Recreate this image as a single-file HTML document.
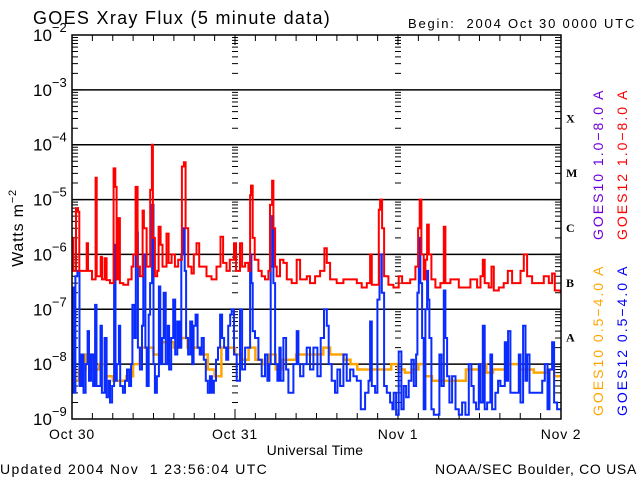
<!DOCTYPE html>
<html><head><meta charset="utf-8"><style>
html,body{margin:0;padding:0;background:#fff;}
svg{display:block;font-family:"Liberation Sans",sans-serif;}
</style></head><body>
<svg id="chart" width="640" height="480" viewBox="0 0 640 480" xmlns="http://www.w3.org/2000/svg">
<text x="33" y="24" font-size="18" letter-spacing="1.3" fill="#000">GOES Xray Flux (5 minute data)</text>
<text x="408" y="28" font-size="13" letter-spacing="1.8" fill="#000" xml:space="preserve">Begin:  2004 Oct 30 0000 UTC</text>
<text x="0" y="474" font-size="14" letter-spacing="1.4" fill="#000" xml:space="preserve">Updated 2004 Nov  1 23:56:04 UTC</text>
<text x="637" y="474" font-size="14" letter-spacing="0.7" fill="#000" text-anchor="end">NOAA/SEC Boulder, CO USA</text>
<text x="315" y="455" font-size="14" letter-spacing="0.3" text-anchor="middle">Universal Time</text>
<text transform="translate(23,228) rotate(-90)" font-size="16" letter-spacing="0.8" text-anchor="middle">Watts m<tspan dy="-7" font-size="11">−2</tspan></text>
<g id="plot"></g>
<g font-size="14" letter-spacing="2" font-family="Liberation Sans,sans-serif">
<text transform="translate(603,240) rotate(-90)" fill="#7000d8">GOES10 1.0−8.0 A</text>
<text transform="translate(627,240) rotate(-90)" fill="#ff0000">GOES12 1.0−8.0 A</text>
<text transform="translate(603,416) rotate(-90)" fill="#ffa500">GOES10 0.5−4.0 A</text>
<text transform="translate(627,416) rotate(-90)" fill="#0000ff">GOES12 0.5−4.0 A</text>
</g>
</svg>
<script>
const dayLabels = ["Oct 30","Oct 31","Nov 1","Nov 2"];
const classLabels = ["X","M","C","B","A"];
const decadeExps = [-2,-3,-4,-5,-6,-7,-8,-9];

const redTimes = [0,0.2,0.59,0.88,1.08,1.67,2.16,2.35,2.94,3.48,3.63,4.22,4.41,4.8,5.1,5.59,6.13,6.37,6.57,6.86,7.06,7.55,8.28,8.77,9.02,9.36,9.66,10,10.39,10.59,10.98,11.52,11.76,11.91,12.2,12.55,12.75,13.04,13.33,13.92,14.22,14.66,15.15,15.64,16.18,16.47,16.72,17.11,17.6,17.94,18.33,18.73,19.31,19.8,20.54,21.27,21.86,22.25,22.75,23.24,
23.5,23.86,24.15,24.74,25.04,25.48,25.97,26.22,26.36,26.61,26.9,27.44,27.93,28.42,28.92,29.16,29.46,29.65,29.9,30.14,30.63,31.12,31.62,32.35,33.09,33.58,34.57,35.05,35.79,36.53,37.17,37.51,38,38.98,39.96,40.95,41.93,42.66,43.4,43.89,44.14,44.87,45.17,45.36,45.66,45.95,46.59,47.33,
48.1,48.6,49.8,50.56,50.96,51.2,51.45,51.79,52.04,52.28,52.53,52.92,53.51,54.25,54.74,54.98,55.72,56.95,58.17,58.66,59.64,60.14,60.48,60.77,61.36,61.76,62.1,62.84,63.57,64.16,64.8,65.39,66.03,66.52,67.01,67.75,68.73,69.47,70.2,70.69,71.09,71.92];
const redValues = [2e-6,5e-7,7e-6,6e-6,5e-7,5e-7,1.6e-6,5e-7,3.5e-7,2.5e-5,4e-7,9e-7,3.5e-7,8.5e-7,3.4e-7,3e-7,3.7e-5,1.7e-5,3.5e-7,4.6e-6,3e-7,2.8e-7,3.5e-7,6e-7,1e-6,1.7e-5,6e-7,4e-7,6.3e-6,3e-6,6e-7,1.5e-5,1e-4,2e-6,4e-7,5e-7,3.2e-6,1.5e-6,6e-7,2.4e-6,7e-7,1e-6,6e-7,8e-7,4e-5,4.8e-5,3e-6,6e-7,4.5e-7,1e-6,1.6e-6,6e-7,6e-7,4e-7,3.5e-7,6e-7,2.1e-6,7e-7,5e-7,8e-7,
8e-7,1.6e-6,5e-7,1.6e-6,6e-7,7e-7,5e-7,1.2e-5,1.8e-5,2e-6,8e-7,5e-7,4e-7,3.5e-7,5e-7,8e-6,2.2e-5,3e-6,6e-7,4e-7,8e-7,7e-7,3.5e-7,3e-7,8e-7,3.5e-7,4e-7,3e-7,4e-7,5e-7,1.3e-6,7e-7,3.5e-7,3e-7,3.5e-7,3.5e-7,3e-7,2.5e-7,3e-7,1e-6,2.8e-7,2.8e-7,6.5e-6,1e-5,3e-6,4e-7,2.8e-7,2.5e-7,
4e-7,3e-7,3.5e-7,6e-7,3e-6,1e-5,1e-6,3.5e-7,8e-7,3.5e-6,1e-6,3.5e-7,2.5e-7,3e-7,3.2e-6,3e-7,3.5e-7,2.5e-7,2.5e-7,3.5e-7,2.5e-7,4e-7,8e-7,3e-7,2.5e-7,6e-7,2.2e-7,2.5e-7,3e-7,5e-7,3e-7,3e-7,5e-7,1e-6,4e-7,3e-7,3e-7,4e-7,3e-7,4.5e-7,2.2e-7,2e-7];

const blueTimes = [0,0.2,0.5,0.8,1.1,1.4,1.7,2.0,2.3,2.5,2.8,3.1,3.4,3.6,4.2,4.4,4.8,5.1,5.4,5.6,5.9,6.2,6.4,6.6,6.9,7.1,7.5,7.8,8.1,8.4,8.7,8.9,9.2,9.4,9.7,10.0,10.3,10.5,10.8,11.0,11.3,11.5,11.8,12.0,12.2,12.5,12.8,13.0,13.3,13.5,13.8,14.1,14.3,14.6,14.9,15.2,15.5,15.8,16.1,16.4,16.6,16.8,17.1,17.4,17.7,17.9,18.2,18.5,18.8,19.1,19.4,19.7,20.0,20.3,20.6,20.9,21.2,21.5,21.8,22.1,22.4,22.7,23.0,23.3,
23.51,23.86,24.25,24.74,25.04,25.48,25.97,26.22,26.41,26.61,26.95,27.44,27.93,28.42,28.77,29.06,29.26,29.46,29.65,29.9,30.24,30.54,30.73,31.12,31.52,31.86,32.35,32.6,33.09,33.33,33.58,34.07,34.56,35.05,35.54,36.13,36.62,37.11,37.51,37.8,38.24,38.73,39.08,39.47,39.96,40.45,40.95,41.44,41.93,42.52,43.15,43.65,43.89,44.14,44.63,44.97,45.27,45.61,45.95,46.35,46.84,47.18,
47.37,47.72,48.1,48.5,48.84,49.19,49.58,49.98,50.32,50.66,50.86,51.06,51.3,51.55,51.79,52.04,52.28,52.43,52.63,52.92,53.27,53.76,54.1,54.4,54.74,54.98,55.23,55.57,55.96,56.46,56.95,57.44,57.93,58.42,58.81,59.15,59.5,59.89,60.14,60.48,60.77,61.12,61.61,61.85,62.34,62.74,63.08,63.72,63.92,64.21,64.55,64.9,65.29,65.78,66.03,66.42,66.77,67.01,67.36,68,68.73,69.23,69.62,70.01,70.31,70.69,70.99,71.43,71.92];
const blueValues = [2.5e-7,3e-9,4e-7,5e-7,4e-9,1.5e-8,3e-9,1e-8,4e-8,5e-9,1.5e-8,4e-9,1.2e-7,4e-9,5e-8,3e-9,3e-8,2.5e-9,5e-9,2e-9,4e-9,1.5e-6,5e-9,1e-8,5e-8,4e-9,3e-9,5e-9,8e-9,4e-9,1e-8,1.2e-7,3e-8,2.5e-6,2e-8,8e-9,5e-8,1e-6,2e-8,4e-9,8e-8,3e-7,8e-6,1e-8,3e-9,6e-9,2.6e-7,1e-8,3e-8,2e-7,1e-8,5e-8,8e-9,3e-8,1.5e-7,1.5e-8,6e-8,2e-8,1e-6,3e-6,5e-7,3e-8,1.5e-8,6e-8,1e-8,5e-8,8e-8,2e-8,1.5e-8,3e-8,1.2e-8,5e-9,3e-9,6e-9,3e-9,5e-9,1.2e-8,2e-8,8e-8,3e-8,2e-8,1.2e-8,5e-8,8e-8,
1e-7,1.5e-8,5e-9,1e-7,8e-9,2e-8,2e-8,1e-6,3e-7,4e-8,3e-8,1.2e-8,6e-9,1.5e-8,5e-9,1e-8,6e-7,5e-6,3e-7,1e-8,5e-9,2e-8,5e-9,3e-8,8e-9,3e-9,3e-9,1e-8,4e-8,1e-8,6e-9,1e-8,2e-8,8e-9,2e-8,6e-9,3e-8,1e-7,5e-8,1e-8,5e-9,3e-9,8e-9,4e-9,1.5e-8,5e-9,8e-9,6e-9,5e-9,1.5e-9,3e-9,5e-9,6e-8,4e-9,3e-9,1.5e-7,1e-6,2e-7,4e-9,3e-9,2e-9,1.5e-9,
3e-9,1.2e-9,1.7e-8,1.5e-9,4e-9,2.5e-9,5e-9,1.2e-8,4e-9,1.5e-8,2e-7,2e-6,3e-7,3e-8,1.5e-9,1e-7,5e-7,1.5e-7,3e-8,1.5e-9,1.2e-9,1.2e-9,1.5e-8,4e-9,2.2e-7,3e-8,6e-9,2e-9,6e-9,1.5e-9,1.2e-9,2e-9,1.2e-9,1e-8,4e-9,2e-9,1.5e-9,1e-8,2e-9,5e-8,1.5e-9,2e-9,1.5e-8,1.5e-9,3e-9,5e-9,4e-9,2.5e-8,5e-9,4e-8,3e-9,3e-9,3e-9,1.5e-8,2e-9,5e-8,5e-9,1.5e-8,3e-9,3e-9,3e-9,5e-9,1e-8,1.5e-9,8e-9,2.5e-8,2e-9,1.5e-9,1.5e-9];

const orangeTimes = [0,1,2,3,4,5,6,7,8,9,10,11,12,13,14,15,16,17,18,19,20,21,22,23,24,25,26,27,28,29,30,31,32,33,34,35,36,37,38,39,40,41,42,43,44,45,46,47,48,49,50,51,52,53,54,55,56,57,58,59,60,61,62,63,64,65,66,67,68,69,70,71,72];
const orangeValues = [5e-9,8e-9,1.5e-8,8e-9,1e-8,6e-9,5e-9,5e-9,6e-9,1e-8,2e-8,2e-8,1.5e-8,2.5e-8,2.5e-8,2e-8,3e-8,2e-8,2e-8,1.5e-8,8e-9,6e-9,2e-8,2e-8,1.5e-8,1.2e-8,2e-8,1.2e-8,1e-8,1.5e-8,8e-9,1.2e-8,1.2e-8,1.5e-8,1.5e-8,1.5e-8,1.5e-8,2e-8,1.5e-8,1.5e-8,1.2e-8,1e-8,8e-9,8e-9,8e-9,8e-9,8e-9,1e-8,8e-9,7e-9,8e-9,1e-8,6e-9,5e-9,5e-9,5e-9,5e-9,5e-9,8e-9,8e-9,1e-8,7e-9,8e-9,8e-9,1e-8,1e-8,8e-9,8e-9,7e-9,7e-9,8e-9,6e-9,6e-9];

const NS="http://www.w3.org/2000/svg";
const X0=72,X1=561,Y0=35,Y1=419;
const xScale=h=>X0+(X1-X0)*h/72;
const yScale=v=>Y0+(Y1-Y0)*(-2-Math.log10(v))/7;
const plot=document.getElementById('plot');
const svg=document.getElementById('chart');
function mk(tag,attrs,parent){const e=document.createElementNS(NS,tag);for(const k in attrs)e.setAttribute(k,attrs[k]);(parent||plot).appendChild(e);return e;}

decadeExps.forEach((ex,i)=>{
  const y=yScale(Math.pow(10,ex));
  if(ex<-2&&ex>-9){const l=mk('line',{x1:X0,x2:X1,y1:y,y2:y,stroke:'#000','stroke-width':1.5});
    
    }
  const t=mk('text',{x:33,y:y+6,'font-size':17},svg);
  
  
  t.textContent='10';
  const s=mk('tspan',{dy:-9,'font-size':13},t); s.textContent='−'+(-ex);
});
let ticks='';
for(let ex=-9;ex<-2;ex++){for(let m=2;m<=9;m++){
  const y=yScale(m*Math.pow(10,ex));
  ticks+=`M${X0} ${y}h6M${X1} ${y}h-6M${xScale(24)-3} ${y}h6M${xScale(48)-3} ${y}h6`;
}}
for(let ex=-9;ex<=-2;ex++){const y=yScale(Math.pow(10,ex));ticks+=`M${X0} ${y}h10M${X1} ${y}h-10M${xScale(24)-4} ${y}h8M${xScale(48)-4} ${y}h8`;}
for(let h=3;h<72;h+=3){const x=xScale(h);const L=h%24===0?10:6;ticks+=`M${x} ${Y1}v-${L}M${x} ${Y0}v${L}`;}
const tk=mk('path',{d:ticks,stroke:'#000','stroke-width':1,fill:'none'});



dayLabels.forEach((d,i)=>{const t=mk('text',{x:xScale(i*24),y:439,'font-size':14,'letter-spacing':0.8,'text-anchor':'middle'},svg);
  
  
  t.textContent=d;});
classLabels.forEach((c,i)=>{const t=mk('text',{x:566,y:yScale(Math.pow(10,-3.5-i))+5,'font-size':12,'font-weight':'bold','font-family':'Liberation Serif,serif'},svg);
  
  
  t.textContent=c;});

function series(times,vals,color,name,w){
  let d='';for(let i=0;i<times.length;i++){const x=xScale(times[i]).toFixed(1),y=yScale(vals[i]).toFixed(1);
    if(i===0)d+=`M${x} ${y}`;else d+=`H${x}V${y}`;}
  const p=mk('path',{d:d,stroke:color,'stroke-width':w,fill:'none','stroke-linejoin':'miter'});
  
  
}
series(orangeTimes,orangeValues,'#ffa500','series-goes10-short',2.5);
series(blueTimes,blueValues,'#0a2cff','series-goes12-short',2);
series(redTimes,redValues,'#ff0000','series-goes12-long',2);

const frame=mk('rect',{x:X0,y:Y0,width:X1-X0,height:Y1-Y0,fill:'none',stroke:'#000','stroke-width':1.5});


</script>
</body></html>
